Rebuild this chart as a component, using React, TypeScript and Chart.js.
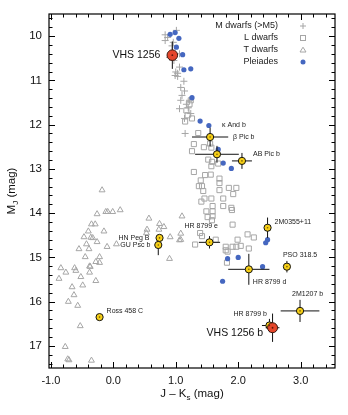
import { useEffect, useRef } from 'react';
import { Chart, registerables } from 'chart.js';
Chart.register(...registerables);

// ---------- data ----------
const xTicks = [-1, 0, 1, 2, 3];
const xTickLabels = ['-1.0', '0.0', '1.0', '2.0', '3.0'];
const yTicks = [10, 11, 12, 13, 14, 15, 16, 17];
const yTickLabels = ['10', '11', '12', '13', '14', '15', '16', '17'];

const mDwarfs: number[][] = [
  [0.83, 9.97], [0.83, 10.1], [0.87, 10.03], [1.01, 9.87], [0.96, 10.14], [1.06, 10.4], [0.9, 10.48],
  [1.06, 10.7], [1.0, 10.81], [1.03, 10.91], [1.13, 11.02], [1.08, 11.16], [1.14, 11.24], [1.1, 11.34],
  [1.08, 11.45], [1.22, 11.45], [1.17, 11.54], [1.06, 11.64], [1.24, 11.75], [1.14, 11.86], [1.15, 12.2],
  [0.99, 10.89], [1.03, 10.84], [0.94, 10.22], [0.97, 10.55], [1.2, 11.62],
];

const lDwarfs: number[][] = [
  [1.24, 11.45], [1.22, 11.54], [1.17, 11.68], [1.19, 11.79], [1.26, 11.86], [1.15, 11.93], [1.36, 12.19],
  [1.29, 12.44], [1.45, 12.51], [1.26, 12.6], [1.55, 12.43], [1.57, 12.52], [1.52, 12.79], [1.58, 12.84],
  [1.57, 12.94], [1.68, 12.88], [1.29, 13.07], [1.47, 13.14], [1.56, 13.13], [1.7, 13.22], [1.7, 13.32],
  [1.4, 13.26], [1.37, 13.39], [1.42, 13.39], [1.44, 13.5], [1.85, 13.43], [1.97, 13.43], [1.7, 13.48],
  [1.92, 13.57], [1.46, 13.67], [1.57, 13.67], [1.41, 13.74], [1.76, 13.67], [1.59, 13.84], [1.76, 13.84],
  [1.89, 13.88], [1.9, 13.93], [1.49, 13.96], [1.59, 13.96], [1.51, 14.09], [1.59, 14.07], [1.58, 14.16],
  [1.91, 14.26], [1.39, 14.45], [1.42, 14.52], [1.31, 14.71], [1.64, 14.6], [1.99, 14.6], [2.15, 14.48],
  [2.25, 14.55], [1.8, 14.76], [1.8, 14.84], [1.91, 14.76], [1.97, 14.76], [2.17, 14.8], [2.04, 14.74],
  [1.82, 15.12], [1.83, 14.87],
];

const tDwarfs: number[][] = [
  [-0.18, 13.48], [-0.26, 14.02], [-0.12, 13.97], [-0.09, 13.97], [-0.01, 13.97], [0.11, 13.93],
  [-0.35, 14.25], [-0.29, 14.25], [-0.4, 14.41], [-0.15, 14.41], [-0.47, 14.54], [-0.36, 14.55],
  [-0.33, 14.56], [-0.26, 14.65], [-0.43, 14.7], [0.05, 14.7], [-0.1, 14.76], [-0.55, 14.81],
  [-0.39, 14.81], [0.57, 14.12], [0.54, 14.37], [0.53, 14.45], [0.74, 14.24], [0.73, 14.37],
  [0.81, 14.31], [0.91, 14.54], [1.06, 14.61], [0.9, 15.03], [-0.22, 14.99], [-0.45, 14.99],
  [-0.28, 15.1], [-0.22, 15.12], [-0.37, 15.21], [-0.84, 15.24], [-0.62, 15.24], [-0.6, 15.3],
  [-0.76, 15.34], [-0.38, 15.2], [-0.38, 15.34], [-0.87, 15.48], [-0.52, 15.44], [-0.28, 15.53],
  [-0.66, 15.67], [-0.49, 15.63], [-0.63, 15.85], [-0.72, 16.0], [-0.57, 16.09], [-0.53, 16.55],
  [-0.77, 17.02], [-0.73, 17.3], [-0.71, 17.32], [-0.35, 17.33], [1.1, 14.07], [1.08, 14.46], [1.08, 14.6],
];

const pleiades: number[][] = [
  [0.91, 9.96], [0.99, 9.92], [1.05, 10.05], [1.01, 10.25], [1.11, 10.42], [1.13, 10.76], [1.24, 10.74],
  [1.26, 11.39], [1.39, 11.92], [1.53, 12.02], [1.68, 12.56], [1.76, 12.87], [1.89, 12.99], [2.47, 14.6],
  [2.44, 14.67], [1.83, 15.03], [2.0, 15.0], [2.39, 15.21], [1.75, 15.54],
];

const youngNames = ['κ And b', 'β Pic b', 'AB Pic b', 'HR 8799 e', 'HN Peg B', 'GU Psc b', '2M0355+11',
  'PSO 318.5', 'HR 8799 d', '2M1207 b', 'HR 8799 b', 'Ross 458 C'];
const youngJK = [1.55, 1.66, 2.06, 1.54, 0.74, 0.72, 2.47, 2.78, 2.17, 2.99, 2.5, -0.22];
const youngMJ = [12.28, 12.67, 12.82, 14.66, 14.56, 14.72, 14.33, 15.21, 15.27, 16.21, 16.54, 16.35];
const youngJKErr = [0.29, 0.35, 0.16, 0.17, 0.03, 0.03, 0.03, 0.04, 0.33, 0.31, 0.12, 0.05];
const youngMJErr = [0.21, 0.19, 0.18, 0.14, 0.03, 0.23, 0.23, 0.13, 0.35, 0.25, 0.15, 0.03];

const vhsNames = ['VHS 1256', 'VHS 1256 b'];
const vhsJK = [0.945, 2.55];
const vhsMJ = [10.43, 16.59];
const vhsJKErr = [0.03, 0.11];
const vhsMJErr = [0.31, 0.32];

const legendLabels = ['M dwarfs (>M5)', 'L dwarfs', 'T dwarfs', 'Pleiades'];

// label placement (pixel offsets from the marker) - styling only
const youngLabelPlace: { dx: number; dy: number; align: CanvasTextAlign }[] = [
  { dx: 12, dy: -12, align: 'left' },
  { dx: 16, dy: -17, align: 'left' },
  { dx: 11, dy: -7, align: 'left' },
  { dx: -25, dy: -16, align: 'left' },
  { dx: -10, dy: 0, align: 'right' },
  { dx: -8, dy: 0, align: 'right' },
  { dx: 7, dy: -6, align: 'left' },
  { dx: -4, dy: -12, align: 'left' },
  { dx: 4, dy: 13, align: 'left' },
  { dx: -8, dy: -17, align: 'left' },
  { dx: -36, dy: -11, align: 'left' },
  { dx: 7, dy: -6, align: 'left' },
];
const vhsLabelPlace: { dx: number; dy: number; align: CanvasTextAlign }[] = [
  { dx: -12, dy: 0, align: 'right' },
  { dx: -66, dy: 5, align: 'left' },
];

const FONT = '"Liberation Sans", Arial, Helvetica, sans-serif';
const GRAY = '#a6a6a6';
const BLUE = '#4567c0';
const YELLOW = '#f6cf16';
const RED = '#e5462b';

const toPts = (arr: number[][]) => arr.map(([x, y]) => ({ x, y }));

function drawRich(ctx: CanvasRenderingContext2D, parts: { t: string; sub?: boolean }[], x: number, y: number,
  size: number, align: 'center' | 'left' | 'right') {
  const subSize = size * 0.7;
  const widths = parts.map((p) => {
    ctx.font = `${p.sub ? subSize : size}px ${FONT}`;
    return ctx.measureText(p.t).width;
  });
  const total = widths.reduce((s, w) => s + w, 0);
  let cx = align === 'center' ? x - total / 2 : align === 'right' ? x - total : x;
  ctx.textAlign = 'left';
  ctx.textBaseline = 'middle';
  parts.forEach((p, i) => {
    ctx.font = `${p.sub ? subSize : size}px ${FONT}`;
    ctx.fillText(p.t, cx, p.sub ? y + size * 0.3 : y);
    cx += widths[i];
  });
}

const decor = {
  id: 'decor',
  beforeDatasetDraw(chart: any, args: any) {
    if (args.index !== 1) return;
    const { ctx } = chart;
    const xs = chart.scales.x, ys = chart.scales.y;
    ctx.save();
    ctx.strokeStyle = '#111';
    ctx.lineWidth = 1;
    const bars = (jk: number[], mj: number[], ex: number[], ey: number[]) => {
      jk.forEach((x, i) => {
        const y = mj[i];
        ctx.beginPath();
        ctx.moveTo(xs.getPixelForValue(x - ex[i]), ys.getPixelForValue(y));
        ctx.lineTo(xs.getPixelForValue(x + ex[i]), ys.getPixelForValue(y));
        ctx.moveTo(xs.getPixelForValue(x), ys.getPixelForValue(y - ey[i]));
        ctx.lineTo(xs.getPixelForValue(x), ys.getPixelForValue(y + ey[i]));
        ctx.stroke();
      });
    };
    bars(youngJK, youngMJ, youngJKErr, youngMJErr);
    bars(vhsJK, vhsMJ, vhsJKErr, vhsMJErr);
    ctx.restore();
  },
  afterDraw(chart: any) {
    const { ctx, chartArea: a } = chart;
    const xs = chart.scales.x, ys = chart.scales.y;
    ctx.save();
    // center dots on highlighted markers
    ctx.fillStyle = 'rgba(60,40,0,0.7)';
    youngJK.forEach((x, i) => {
      ctx.beginPath();
      ctx.arc(xs.getPixelForValue(x), ys.getPixelForValue(youngMJ[i]), 0.8, 0, Math.PI * 2);
      ctx.fill();
    });
    ctx.fillStyle = 'rgba(60,10,0,0.8)';
    vhsJK.forEach((x, i) => {
      ctx.beginPath();
      ctx.arc(xs.getPixelForValue(x), ys.getPixelForValue(vhsMJ[i]), 0.9, 0, Math.PI * 2);
      ctx.fill();
    });

    // frame
    ctx.strokeStyle = '#000';
    ctx.lineWidth = 1.2;
    ctx.strokeRect(a.left, a.top, a.right - a.left, a.bottom - a.top);
    // ticks (inward, every 0.2)
    ctx.lineWidth = 1;
    ctx.beginPath();
    for (let k = -6; k <= 18; k++) {
      const v = k * 0.2;
      if (v < xs.min || v > xs.max) continue;
      const px = Math.round(xs.getPixelForValue(v)) + 0.5;
      const len = k % 5 === 0 ? 6 : 3.5;
      ctx.moveTo(px, a.bottom); ctx.lineTo(px, a.bottom - len);
      ctx.moveTo(px, a.top); ctx.lineTo(px, a.top + len);
    }
    for (let k = 47; k <= 88; k++) {
      const v = k * 0.2;
      if (v < ys.min || v > ys.max) continue;
      const py = Math.round(ys.getPixelForValue(v)) + 0.5;
      const len = k % 5 === 0 ? 6 : 3.5;
      ctx.moveTo(a.left, py); ctx.lineTo(a.left + len, py);
      ctx.moveTo(a.right, py); ctx.lineTo(a.right - len, py);
    }
    ctx.stroke();

    // tick labels
    ctx.fillStyle = '#111';
    ctx.font = `11px ${FONT}`;
    ctx.textAlign = 'center';
    ctx.textBaseline = 'middle';
    xTicks.forEach((v, i) => ctx.fillText(xTickLabels[i], xs.getPixelForValue(v), a.bottom + 13));
    ctx.font = `11.5px ${FONT}`;
    ctx.textAlign = 'right';
    yTicks.forEach((v, i) => ctx.fillText(yTickLabels[i], a.left - 7, ys.getPixelForValue(v)));

    // axis titles
    drawRich(ctx, [{ t: 'J – K' }, { t: 's', sub: true }, { t: ' (mag)' }], (a.left + a.right) / 2, a.bottom + 26, 11.5, 'center');
    ctx.save();
    ctx.translate(12, (a.top + a.bottom) / 2);
    ctx.rotate(-Math.PI / 2);
    drawRich(ctx, [{ t: 'M' }, { t: 'J', sub: true }, { t: ' (mag)' }], 0, 0, 11.5, 'center');
    ctx.restore();

    // legend
    const lx = 278, sx = 303;
    const ly = [26, 38, 50, 62];
    ctx.font = `9px ${FONT}`;
    ctx.fillStyle = '#222';
    ctx.textAlign = 'right';
    ctx.textBaseline = 'middle';
    legendLabels.forEach((t, i) => ctx.fillText(t, lx, ly[i]));
    ctx.strokeStyle = GRAY;
    ctx.lineWidth = 1;
    ctx.beginPath();
    ctx.moveTo(sx - 3, ly[0]); ctx.lineTo(sx + 3, ly[0]);
    ctx.moveTo(sx, ly[0] - 3); ctx.lineTo(sx, ly[0] + 3);
    ctx.stroke();
    ctx.strokeRect(sx - 2.5, ly[1] - 2.5, 5, 5);
    ctx.beginPath();
    ctx.moveTo(sx, ly[2] - 2.8); ctx.lineTo(sx + 3, ly[2] + 2); ctx.lineTo(sx - 3, ly[2] + 2); ctx.closePath();
    ctx.stroke();
    ctx.fillStyle = BLUE;
    ctx.beginPath(); ctx.arc(sx, ly[3], 2.5, 0, Math.PI * 2); ctx.fill();

    // object labels
    ctx.fillStyle = '#222';
    ctx.textBaseline = 'middle';
    ctx.font = `7px ${FONT}`;
    youngNames.forEach((n, i) => {
      const p = youngLabelPlace[i];
      ctx.textAlign = p.align;
      ctx.fillText(n, xs.getPixelForValue(youngJK[i]) + p.dx, ys.getPixelForValue(youngMJ[i]) + p.dy);
    });
    ctx.font = `10.5px ${FONT}`;
    ctx.fillStyle = '#111';
    vhsNames.forEach((n, i) => {
      const p = vhsLabelPlace[i];
      ctx.textAlign = p.align;
      ctx.fillText(n, xs.getPixelForValue(vhsJK[i]) + p.dx, ys.getPixelForValue(vhsMJ[i]) + p.dy);
    });
    ctx.restore();
  },
};

export default function App() {
  const ref = useRef<HTMLCanvasElement>(null);
  useEffect(() => {
    const chart = new Chart(ref.current!, {
      type: 'scatter',
      data: {
        datasets: [
          {
            label: 'VHS 1256', data: vhsJK.map((x, i) => ({ x, y: vhsMJ[i] })),
            pointStyle: 'circle', pointRadius: [5.3, 5], backgroundColor: RED, borderColor: '#3a1a10', borderWidth: 1, order: 0,
          } as any,
          {
            label: 'young', data: youngJK.map((x, i) => ({ x, y: youngMJ[i] })),
            pointStyle: 'circle', pointRadius: 3.6, backgroundColor: YELLOW, borderColor: '#111', borderWidth: 1, order: 1,
          },
          {
            label: legendLabels[3], data: toPts(pleiades),
            pointStyle: 'circle', pointRadius: 2.6, backgroundColor: BLUE, borderWidth: 0, order: 2,
          },
          {
            label: legendLabels[0], data: toPts(mDwarfs),
            pointStyle: 'cross', pointRadius: 3.5, borderColor: GRAY, backgroundColor: GRAY, borderWidth: 1, order: 3,
          },
          {
            label: legendLabels[1], data: toPts(lDwarfs),
            pointStyle: 'rect', pointRadius: 3.6, borderColor: GRAY, backgroundColor: 'rgba(255,255,255,0)', borderWidth: 1, order: 4,
          },
          {
            label: legendLabels[2], data: toPts(tDwarfs),
            pointStyle: 'triangle', pointRadius: 3.4, borderColor: GRAY, backgroundColor: 'rgba(255,255,255,0)', borderWidth: 1, order: 5,
          },
        ],
      },
      options: {
        animation: false,
        responsive: false,
        layout: { padding: { left: 49, top: 14, right: 13, bottom: 47 } },
        plugins: { legend: { display: false }, tooltip: { enabled: false } },
        scales: {
          x: { type: 'linear', min: -1.03, max: 3.55, display: false },
          y: { type: 'linear', min: 9.5, max: 17.5, reverse: true, display: false },
        },
      },
      plugins: [decor],
    });
    return () => chart.destroy();
  }, []);
  return (
    <div style={{ position: 'fixed', left: 0, top: 0, width: 348, height: 415, background: '#fff' }}>
      <canvas ref={ref} width={348} height={415} style={{ display: 'block' }} />
    </div>
  );
}
